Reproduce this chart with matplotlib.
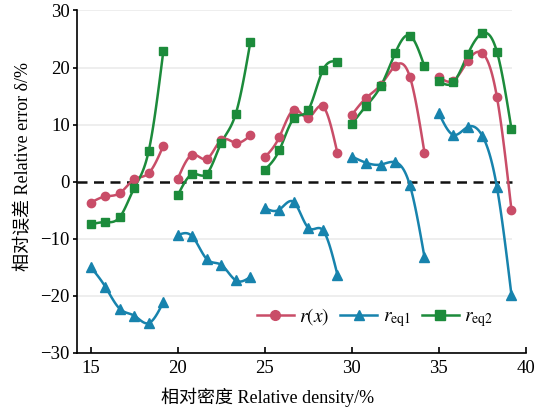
import numpy as np
import matplotlib
matplotlib.use("Agg")
import matplotlib.pyplot as plt

plt.rcParams['font.family'] = ['Liberation Serif', 'Noto Sans CJK SC']
plt.rcParams['mathtext.fontset'] = 'stix'
plt.rcParams['axes.unicode_minus'] = True

# 每组 6 个相对密度点
density = [
    [15.0, 15.83, 16.67, 17.5, 18.33, 19.17],
    [20.0, 20.83, 21.67, 22.5, 23.33, 24.17],
    [25.0, 25.83, 26.67, 27.5, 28.33, 29.17],
    [30.0, 30.83, 31.67, 32.5, 33.33, 34.17],
    [35.0, 35.83, 36.67, 37.5, 38.33, 39.17],
]

r_x = [
    [-3.7, -2.6, -2.0, 0.4, 1.5, 6.3],
    [0.5, 4.7, 4.0, 7.3, 6.8, 8.1],
    [4.3, 7.8, 12.6, 11.2, 13.2, 5.0],
    [11.7, 14.7, 17.0, 20.3, 18.4, 5.1],
    [18.4, 17.7, 21.2, 22.5, 14.9, -5.0],
]

r_eq1 = [
    [-15.0, -18.4, -22.3, -23.5, -24.8, -21.1],
    [-9.4, -9.6, -13.6, -14.6, -17.3, -16.7],
    [-4.6, -4.9, -3.6, -8.1, -8.5, -16.3],
    [4.4, 3.3, 3.0, 3.4, -0.6, -13.2],
    [12.0, 8.2, 9.6, 8.0, -0.9, -19.9],
]

r_eq2 = [
    [-7.5, -7.1, -6.2, -1.1, 5.4, 22.9],
    [-2.4, 1.3, 1.4, 6.8, 11.9, 24.5],
    [2.1, 5.5, 11.1, 12.6, 19.5, 21.0],
    [10.1, 13.3, 16.8, 22.6, 25.6, 20.2],
    [17.7, 17.4, 22.4, 26.0, 22.8, 9.2],
]

yticks = [-30, -20, -10, 0, 10, 20, 30]
xticks = [15, 20, 25, 30, 35, 40]


def spline(x, y, n=80):
    '''自然三次样条, 用于画平滑曲线'''
    x = np.asarray(x, float)
    y = np.asarray(y, float)
    m = len(x)
    h = np.diff(x)
    A = np.zeros((m, m))
    b = np.zeros(m)
    A[0, 0] = 1
    A[-1, -1] = 1
    for i in range(1, m - 1):
        A[i, i - 1] = h[i - 1]
        A[i, i] = 2 * (h[i - 1] + h[i])
        A[i, i + 1] = h[i]
        b[i] = 6 * ((y[i + 1] - y[i]) / h[i] - (y[i] - y[i - 1]) / h[i - 1])
    M = np.linalg.solve(A, b)
    xs = np.linspace(x[0], x[-1], n)
    idx = np.clip(np.searchsorted(x, xs) - 1, 0, m - 2)
    x0, x1 = x[idx], x[idx + 1]
    hh = x1 - x0
    t0, t1 = x1 - xs, xs - x0
    ys = (M[idx] * t0 ** 3 + M[idx + 1] * t1 ** 3) / (6 * hh) \
        + (y[idx] / hh - M[idx] * hh / 6) * t0 \
        + (y[idx + 1] / hh - M[idx + 1] * hh / 6) * t1
    return xs, ys


fig = plt.figure(figsize=(5.45, 4.19), dpi=100)
ax = fig.add_axes([0.141, 0.158, 0.824, 0.817])

for yv in yticks:
    if yv != 0:
        ax.hlines(yv, 14.2, 39.2, color='#ebebeb', lw=1.2, zorder=0)
ax.hlines(0, 14.2, 39.2, color='#111111', lw=1.8, linestyles=(0, (4, 2.6)), zorder=1)

series = [
    (r_x, '#c94d68', 'o', 6.0, r'$r(x)$'),
    (r_eq1, '#1783ad', '^', 6.5, r'$r_{\rm eq1}$'),
    (r_eq2, '#1c8b3b', 's', 5.5, r'$r_{\rm eq2}$'),
]

for data, color, marker, ms, label in series:
    for k in range(len(density)):
        xs, ys = spline(density[k], data[k])
        ax.plot(xs, ys, color=color, lw=1.8, zorder=2)
        ax.plot(density[k], data[k], linestyle='none', marker=marker,
                ms=ms, color=color, zorder=3)
    ax.plot([], [], color=color, lw=1.8, marker=marker, ms=ms + 1, label=label)

ax.set_xlim(14.2, 40)
ax.set_ylim(-30, 30)
ax.set_xticks(xticks)
ax.set_yticks(yticks)
ax.spines['top'].set_visible(False)
ax.spines['right'].set_visible(False)
ax.spines['left'].set_linewidth(1.2)
ax.spines['bottom'].set_linewidth(1.2)
ax.tick_params(axis='x', direction='in', length=4, width=1.2, labelsize=13.5, pad=5)
ax.tick_params(axis='y', direction='out', length=3, width=1.2, labelsize=13.5, pad=2)

ax.set_xlabel('相对密度 Relative density/%', fontsize=13)
ax.set_ylabel('相对误差 Relative error δ/%', fontsize=13)
ax.xaxis.set_label_coords(0.425, -0.1)
ax.yaxis.set_label_coords(-0.1, 0.545)

ax.legend(loc='center', bbox_to_anchor=(0.664, 0.102), ncol=3, frameon=False,
          fontsize=14, handlelength=1.9, columnspacing=0.55, handletextpad=0.3)

fig.savefig('out.png', dpi=100)
